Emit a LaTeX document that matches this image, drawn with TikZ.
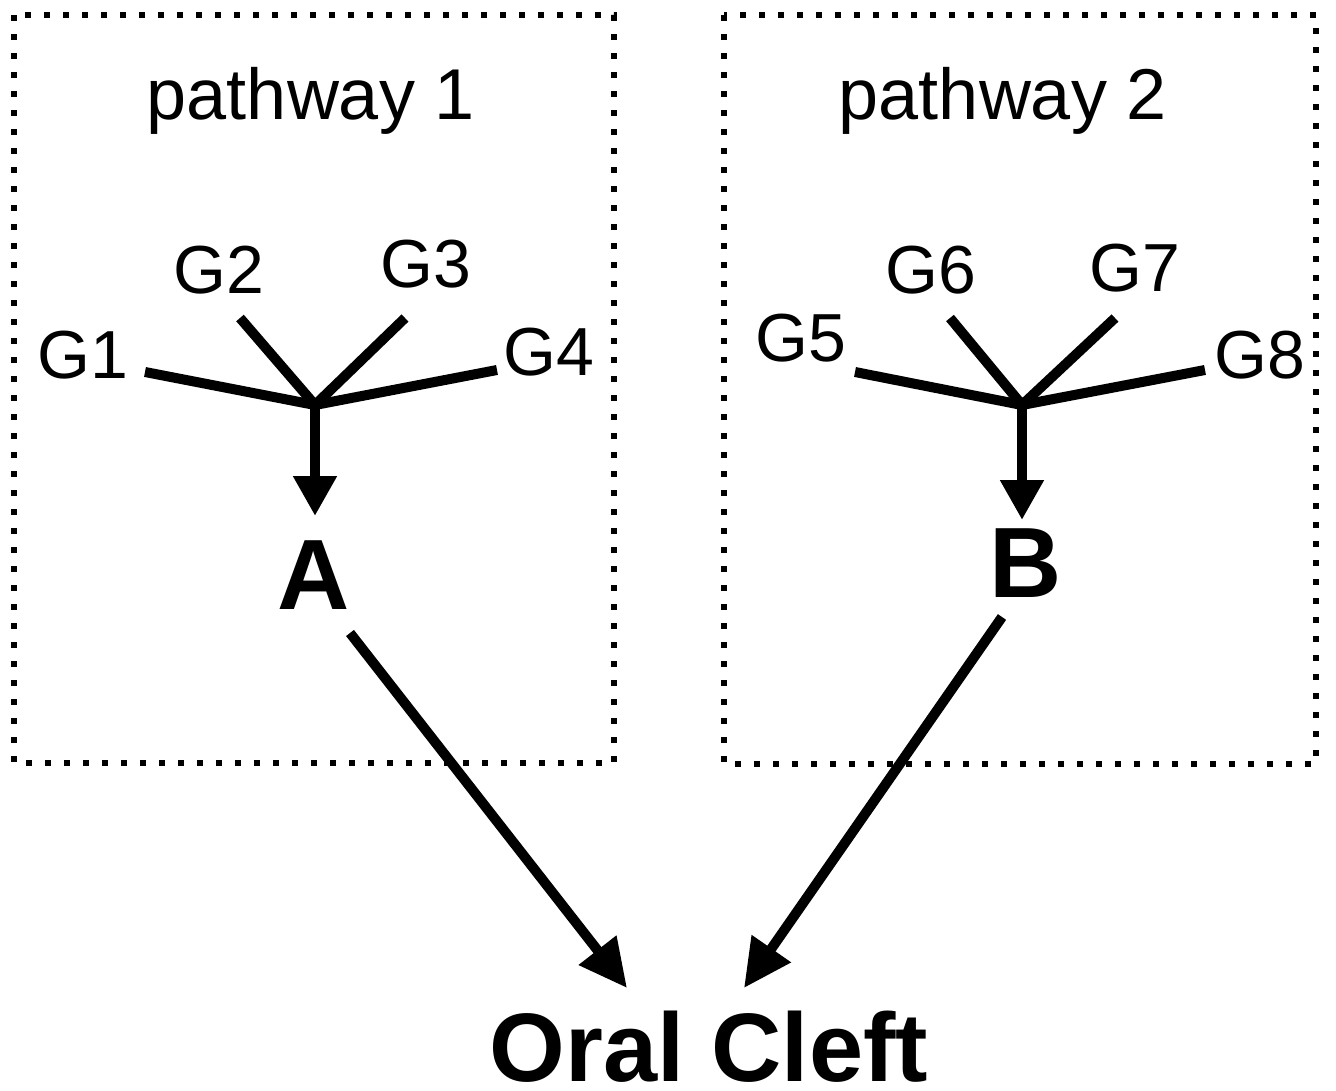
\documentclass[tikz,border=0pt]{standalone}
\usepackage{fontspec}
\setmainfont{Liberation Sans}
\usetikzlibrary{arrows.meta}
\begin{document}
\begin{tikzpicture}[x=0.75pt,y=-0.75pt,
  pathbox/.style={line width=4.5pt,dash pattern=on 4.5pt off 9.75pt},
  gene/.style={font=\fontsize{51}{55}\selectfont,inner sep=0pt},
  title/.style={font=\fontsize{54}{58}\selectfont,inner sep=0pt},
  factor/.style={font=\bfseries\fontsize{75}{80}\selectfont,inner sep=0pt},
  outcome/.style={font=\bfseries\fontsize{73}{78}\selectfont,inner sep=0pt},
  spoke/.style={line width=7.5pt,line join=round},
  short/.style={line width=7.5pt,-{Triangle[length=30pt,width=31pt]}},
  long/.style={line width=7.5pt,-{Triangle[length=36pt,width=34pt]}}]
\useasboundingbox (0,0) rectangle (1336,1091);

% dotted pathway frames
\draw[pathbox] (14,15) rectangle (614,763);
\draw[pathbox] (724,15) rectangle (1316,764);

% frame titles
\node[title] (p1) at (311,101) {pathway 1};
\node[title] (p2) at (1003,101) {pathway 2};

% gene labels, pathway 1
\node[gene] (G1) at (83,355) {G1};
\node[gene] (G2) at (219,270) {G2};
\node[gene] (G3) at (426,264) {G3};
\node[gene] (G4) at (549,352) {G4};
% gene labels, pathway 2
\node[gene] (G5) at (801,338) {G5};
\node[gene] (G6) at (931,270) {G6};
\node[gene] (G7) at (1135,268) {G7};
\node[gene] (G8) at (1260,355) {G8};

% spoke ends and junctions
\coordinate (e1) at (145,372);
\coordinate (e2) at (240,318);
\coordinate (e3) at (405,318);
\coordinate (e4) at (497,370);
\coordinate (j1) at (315,405);
\coordinate (e5) at (855,372);
\coordinate (e6) at (950,318);
\coordinate (e7) at (1115,318);
\coordinate (e8) at (1205,370);
\coordinate (j2) at (1022,405);

% factor and outcome
\node[factor,anchor=base] (A) at (314,609) {A};
\node[factor,anchor=base] (B) at (1026,597) {B};
\node[outcome,anchor=base] (OC) at (709,1081) {Oral Cleft};

\coordinate (a0) at (350,633);
\coordinate (b0) at (1002,617);
\coordinate (oa) at (627,988);
\coordinate (ob) at (744,988);
\coordinate (ta) at (315,516);
\coordinate (tb) at (1022,520);

% pathway 1 converging genes
\draw[spoke] (e1) -- (j1) -- (e4);
\draw[spoke] (e2) -- (j1) -- (e3);
\draw[short] (j1) -- (ta);
% pathway 2 converging genes
\draw[spoke] (e5) -- (j2) -- (e8);
\draw[spoke] (e6) -- (j2) -- (e7);
\draw[short] (j2) -- (tb);

% factors to outcome
\draw[long] (a0) -- (oa);
\draw[long] (b0) -- (ob);
\end{tikzpicture}
\end{document}
